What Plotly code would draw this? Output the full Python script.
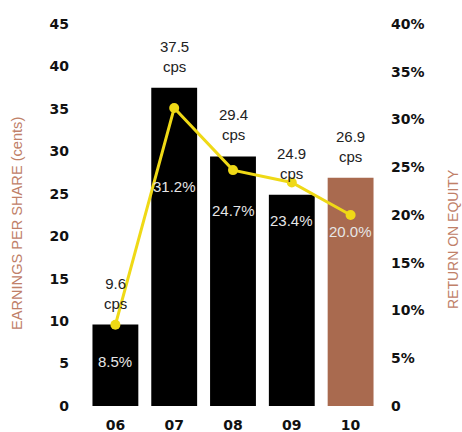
import plotly.graph_objects as go

years = ["06", "07", "08", "09", "10"]
eps_cents = [9.6, 37.5, 29.4, 24.9, 26.9]
roe_pct = [8.5, 31.2, 24.7, 23.4, 20.0]
eps_ticks = [0, 5, 10, 15, 20, 25, 30, 35, 40, 45]
roe_ticks = [0, 5, 10, 15, 20, 25, 30, 35, 40]
roe_tick_text = ["0", "5%", "10%", "15%", "20%", "25%", "30%", "35%", "40%"]

# styling
bar_colors = ["#000000", "#000000", "#000000", "#000000", "#A96A4F"]
pct_label_shift = [-37, -78, -40, -38, -16]
W, H = 462, 432
ML, MR, MT, MB = 86, 82, 24, 26
title_color = "#C08068"
tick_font = dict(family="DejaVu Sans", size=14, color="#111111", weight="bold")

fig = go.Figure()
fig.add_trace(go.Bar(
    x=years, y=eps_cents, marker=dict(color=bar_colors, line=dict(width=0)),
    yaxis="y", hoverinfo="skip",
))
fig.add_trace(go.Scatter(
    x=years, y=roe_pct, yaxis="y2", mode="lines+markers",
    line=dict(color="#EFD916", width=3),
    marker=dict(color="#EFD916", size=10),
    hoverinfo="skip",
))

annotations = []
for i, v in enumerate(eps_cents):
    annotations.append(dict(
        x=i, y=v, xref="x", yref="y", text=f"{v:.1f}<br>cps",
        showarrow=False, yanchor="bottom", yshift=11,
        font=dict(family="Liberation Sans", size=15, color="#222222"),
    ))
for i, (r, s) in enumerate(zip(roe_pct, pct_label_shift)):
    annotations.append(dict(
        x=i, y=r, xref="x", yref="y2", text=f"{r:.1f}%",
        showarrow=False, yanchor="middle", yshift=s,
        font=dict(family="Liberation Sans", size=15, color="#E6E6E6"),
    ))
annotations.append(dict(
    x=0, y=0.5, xref="paper", yref="paper", text="EARNINGS PER SHARE (cents)",
    textangle=-90, showarrow=False, xanchor="center", yanchor="middle",
    xshift=17 - ML, yshift=-9,
    font=dict(family="Liberation Sans", size=14.6, color=title_color),
))
annotations.append(dict(
    x=1, y=0.5, xref="paper", yref="paper", text="RETURN ON EQUITY",
    textangle=-90, showarrow=False, xanchor="center", yanchor="middle",
    xshift=453 - (W - MR), yshift=-24,
    font=dict(family="Liberation Sans", size=14, color=title_color),
))

fig.update_layout(
    width=W, height=H,
    margin=dict(l=ML, r=MR, t=MT, b=MB, pad=0, autoexpand=False),
    paper_bgcolor="white", plot_bgcolor="white",
    showlegend=False, bargap=0.22,
    xaxis=dict(
        type="category", range=[-0.5, 4.5], showgrid=False, zeroline=False,
        showline=False, ticks="", tickfont=tick_font, ticklabelstandoff=9,
        automargin=False,
    ),
    yaxis=dict(
        range=[0, 45], tickvals=eps_ticks, showgrid=False, zeroline=False,
        showline=False, ticks="", tickfont=tick_font, ticklabelstandoff=16,
        automargin=False,
    ),
    yaxis2=dict(
        range=[0, 40], tickvals=roe_ticks, ticktext=roe_tick_text,
        overlaying="y", side="right", showgrid=False, zeroline=False,
        showline=False, ticks="", tickfont=tick_font, ticklabelstandoff=10,
        automargin=False,
    ),
    annotations=annotations,
)

fig.write_html("out.html")
